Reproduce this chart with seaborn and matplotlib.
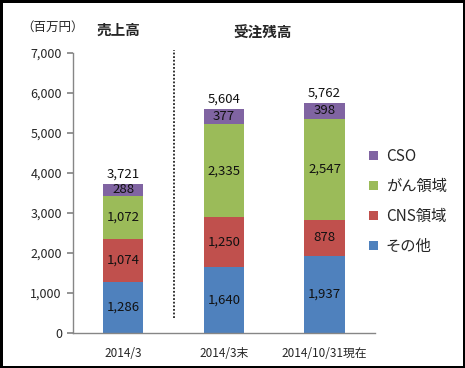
import matplotlib
matplotlib.use("Agg")
import matplotlib.pyplot as plt
import seaborn as sns
import pandas as pd
import numpy as np

# ---------- DATA ----------
periods = ["2014/3", "2014/3末", "2014/10/31現在"]
series_names = ["その他", "CNS領域", "がん領域", "CSO"]
other = [1286, 1640, 1937]
cns = [1074, 1250, 878]
cancer = [1072, 2335, 2547]
cso = [288, 377, 398]
totals = [3721, 5604, 5762]  # as printed (rounded separately)
colors = ["#4F81BD", "#C0504D", "#9BBB59", "#8064A2"]

# ---------- STYLE ----------
sns.set_theme(style="white")
plt.rcParams['font.family'] = ['Noto Sans CJK JP', 'DejaVu Sans']
AXIS_GRAY = "#868686"

df = pd.DataFrame({"period": periods, "その他": other, "CNS領域": cns,
                   "がん領域": cancer, "CSO": cso})
cum = df[series_names].cumsum(axis=1)
tops = cum["CSO"].values

fig = plt.figure(figsize=(4.65, 3.68), dpi=100)
fig.patch.set_edgecolor("black")
fig.patch.set_linewidth(2.5)
ax = fig.add_axes([0.157, 0.095, 0.649, 0.761])

# stacked bars: draw cumulative heights, tallest first
for name, col in reversed(list(zip(series_names, colors))):
    sns.barplot(x=df["period"], y=cum[name], color=col, width=0.4,
                saturation=1, ax=ax, label=name, linewidth=0)

# value labels inside each segment
for i in range(len(periods)):
    base = 0
    for name in series_names:
        v = df.loc[i, name]
        ax.text(i, base + v / 2, f"{v:,}", ha="center", va="center",
                fontsize=9.5, color="#111111")
        base += v
    ax.text(i, tops[i] + 240, f"{totals[i]:,}", ha="center", va="center",
            fontsize=9.5, color="#111111")

ax.set_ylim(0, 7000)
ax.set_xlim(-0.5, 2.5)
ax.set_yticks(range(0, 7001, 1000))
ax.set_yticklabels([f"{t:,}" for t in range(0, 7001, 1000)], fontsize=9)
ax.set_xticks(range(3))
ax.set_xticklabels(periods, fontsize=8.5)
ax.set_xticks([-0.5, 0.5, 1.5, 2.5], minor=True)
ax.tick_params(axis="x", which="major", length=0, pad=10)
ax.tick_params(axis="x", which="minor", length=4, color=AXIS_GRAY, direction="out")
ax.tick_params(axis="y", length=4, color=AXIS_GRAY, direction="out", left=True, pad=4)
ax.set_xlabel("")
ax.set_ylabel("")
for s in ["top", "right"]:
    ax.spines[s].set_visible(False)
for s in ["left", "bottom"]:
    ax.spines[s].set_color(AXIS_GRAY)
    ax.spines[s].set_linewidth(1)

# dotted divider between sales and backlog
ax.axvline(0.5, ymin=0.054, ymax=1.01, color="#222222", linestyle=(0, (1, 1)),
           linewidth=1.3, clip_on=False)

# headings
fig.text(0.045, 0.925, "（百万円）", fontsize=9, ha="left", va="center")
fig.text(0.255, 0.92, "売上高", fontsize=10.5, fontweight="bold", ha="center", va="center")
fig.text(0.565, 0.91, "受注残高", fontsize=10.5, fontweight="bold", ha="center", va="center")

# legend in reverse order (CSO on top)
handles, labels = ax.get_legend_handles_labels()
order = [labels.index(n) for n in reversed(series_names)]
ax.legend([handles[k] for k in order], [labels[k] for k in order],
          loc="center left", bbox_to_anchor=(0.935, 0.47), frameon=False,
          fontsize=11, handlelength=0.6, handleheight=0.6,
          handletextpad=0.5, labelspacing=0.85)

fig.savefig("out.png", dpi=100)
